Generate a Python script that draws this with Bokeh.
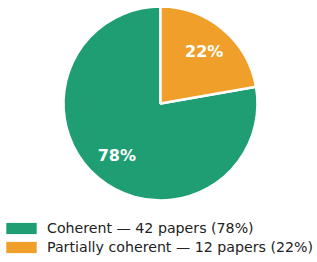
import math
from bokeh.plotting import figure
from bokeh.models import ColumnDataSource, Legend, LegendItem, Range1d
from bokeh.core.properties import value
from bokeh.embed import file_html
from bokeh.resources import INLINE

categories = ["Coherent", "Partially coherent"]
papers = [42, 12]
colors = ["#1f9e74", "#f0a02a"]

W, H = 317, 262
cx, cy, R = 160, 159, 97

total = sum(papers)
pcts = [v / total for v in papers]

# clockwise from top: orange first (as in reference), then green
order = [1, 0]
start = 90.0
starts, ends, mids = {}, {}, {}
for i in order:
    sweep = pcts[i] * 360.0
    e = start
    s = start - sweep
    starts[i], ends[i] = s, e
    mids[i] = (s + e) / 2
    start = s

labels = [f"{categories[i]} \u2014 {papers[i]} papers ({round(pcts[i]*100)}%)" for i in range(2)]
src = ColumnDataSource(dict(
    x=[cx] * 2, y=[cy] * 2,
    start=[math.radians(starts[i]) for i in range(2)],
    end=[math.radians(ends[i]) for i in range(2)],
    color=colors,
))

p = figure(width=W, height=H, output_backend="svg", toolbar_location=None,
           x_range=Range1d(0, W), y_range=Range1d(0, H), min_border=0)
p.axis.visible = False
p.grid.visible = False
p.outline_line_color = None

p.wedge(x="x", y="y", radius=R, start_angle="start", end_angle="end",
        fill_color="color", line_color="white", line_width=2.5, source=src)

lx = [cx + 0.7 * R * math.cos(math.radians(mids[i])) for i in range(2)]
ly = [cy + 0.7 * R * math.sin(math.radians(mids[i])) for i in range(2)]
lt = [f"{round(pcts[i]*100)}%" for i in range(2)]
p.text(x=lx, y=ly, text=lt, text_color="white", text_font=value("DejaVu Sans"),
       text_font_style="bold", text_font_size="16px", text_align="center", text_baseline="middle")

nan = float("nan")
lsrc = ColumnDataSource(dict(l=[nan, nan], r=[nan, nan], t=[nan, nan], b=[nan, nan], color=colors))
qr = p.quad(left="l", right="r", top="t", bottom="b", fill_color="color", line_color=None, source=lsrc)
items = [LegendItem(label=labels[i], renderers=[qr], index=i) for i in range(2)]
leg = Legend(items=items, location=(2, 7), padding=0, margin=0, spacing=3,
             glyph_width=38, glyph_height=14, label_height=11, label_standoff=7,
             label_text_font="DejaVu Sans", label_text_font_size="14.2px",
             label_text_color="#222222", border_line_color=None, background_fill_alpha=0)
p.add_layout(leg)

open("out.html", "w").write(file_html(p, INLINE))
